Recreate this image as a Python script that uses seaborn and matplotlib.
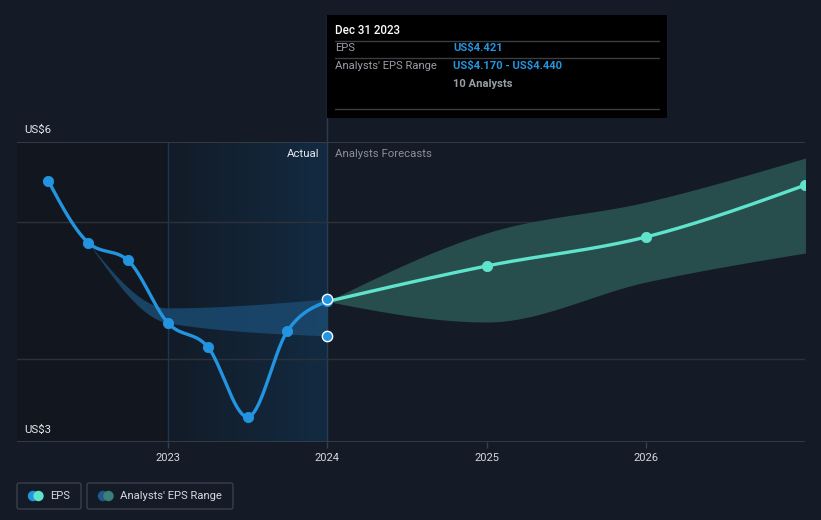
import numpy as np
import pandas as pd
import matplotlib
matplotlib.use("Agg")
import matplotlib.pyplot as plt
import seaborn as sns
from matplotlib.patches import FancyBboxPatch, Rectangle, Circle
from matplotlib.colors import LinearSegmentedColormap

# ---------------- data ----------------
eps_years = [2022.25, 2022.5, 2022.75, 2023.0, 2023.25, 2023.5, 2023.75, 2024.0]
eps_values = [5.30, 4.85, 4.72, 4.264, 4.089, 3.578, 4.206, 4.421]

past_range_years = [2022.5, 2023.0, 2024.0]
past_range_low = [4.85, 4.264, 4.170]
past_range_high = [4.85, 4.374, 4.440]

fc_years = [2024.0, 2025.0, 2026.0, 2027.0]
fc_values = [4.421, 4.68, 4.892, 5.271]
fc_low = [4.421, 4.271, 4.563, 4.775]
fc_high = [4.421, 4.921, 5.147, 5.468]

year_ticks = [2023, 2024, 2025, 2026]
year_labels = ["2023", "2024", "2025", "2026"]

# ---------------- style ----------------
BG = "#151b26"
BLUE = "#2394df"
TEAL = "#5fe3cc"
GRID = "#2c323d"
sns.set_theme(style="dark")
plt.rcParams["font.family"] = ["Roboto", "DejaVu Sans"]
plt.rcParams["text.parse_math"] = False


def monotone(x, y, n=60):
    """d3-style monotone-x cubic curve for display."""
    x = np.asarray(x, float)
    y = np.asarray(y, float)
    h = np.diff(x)
    s = np.diff(y) / h
    m = np.zeros(len(x))
    for k in range(1, len(x) - 1):
        p = (s[k - 1] * h[k] + s[k] * h[k - 1]) / (h[k - 1] + h[k])
        m[k] = (np.sign(s[k - 1]) + np.sign(s[k])) * min(abs(s[k - 1]), abs(s[k]), 0.5 * abs(p))
    if len(x) > 2:
        m[0] = (3 * s[0] - m[1]) / 2
        m[-1] = (3 * s[-1] - m[-2]) / 2
    else:
        m[:] = s[0]
    xs, ys = [], []
    for k in range(len(x) - 1):
        t = np.linspace(0, 1, n)
        h00 = 2 * t**3 - 3 * t**2 + 1
        h10 = t**3 - 2 * t**2 + t
        h01 = -2 * t**3 + 3 * t**2
        h11 = t**3 - t**2
        xs.append(x[k] + t * h[k])
        ys.append(h00 * y[k] + h10 * h[k] * m[k] + h01 * y[k + 1] + h11 * h[k] * m[k + 1])
    return np.concatenate(xs), np.concatenate(ys)


fig = plt.figure(figsize=(8.21, 5.20), dpi=100, facecolor=BG)
ax = fig.add_axes([17 / 821, 78 / 520, 788 / 821, 300 / 520])
ax.set_facecolor(BG)
ax.set_xlim(2022.053, 2026.997)
ax.set_ylim(3.395, 5.585)

# regions
ax.axvspan(2022.053, 2023.0, color="#12171f", zorder=0, lw=0)
grad = np.linspace(0, 1, 256).reshape(1, -1)
cm = LinearSegmentedColormap.from_list("g", ["#131b27", "#122b42"])
ax.imshow(grad, extent=[2023.0, 2024.0, 3.395, 5.585], aspect="auto", cmap=cm, zorder=0.5)
ax.axvline(2023.0, color="#1c3550", lw=1, zorder=1)
ax.axvline(2024.0, color="#2b3b4f", lw=1, zorder=1)

# grid
for v in [4.0, 5.0]:
    ax.axhline(v, color=GRID, lw=1, zorder=1)
ax.axhline(5.585, color="#3a404b", lw=1.2, zorder=1)
ax.axhline(3.395, color="#3a404b", lw=1.2, zorder=1)

# past analyst range band
px, pl = monotone(past_range_years, past_range_low)
_, ph = monotone(past_range_years, past_range_high)
ax.fill_between(px, pl, ph, color="#1b4a70", alpha=0.85, lw=0, zorder=2)

# forecast band
fx, fl = monotone(fc_years, fc_low)
_, fh = monotone(fc_years, fc_high)
ax.fill_between(fx, fl, fh, color="#2a5050", alpha=0.95, lw=0, zorder=2)

# EPS line
ex, ey = monotone(eps_years, eps_values)
sns.lineplot(x=ex, y=ey, ax=ax, color=BLUE, lw=2.4, sort=False, zorder=4)
sns.scatterplot(x=eps_years, y=eps_values, ax=ax, color=BLUE, s=55, edgecolor=BLUE, zorder=5)

# forecast line
cx, cy = monotone(fc_years, fc_values)
sns.lineplot(x=cx, y=cy, ax=ax, color=TEAL, lw=2.4, sort=False, zorder=4)
sns.scatterplot(x=fc_years[1:], y=fc_values[1:], ax=ax, color=TEAL, s=55, edgecolor=TEAL, zorder=5)

# range endpoints at Dec 31 2023
sns.scatterplot(x=[2024.0, 2024.0], y=[past_range_low[-1], past_range_high[-1]], ax=ax,
                color=BLUE, s=55, edgecolor="white", linewidth=1, zorder=6)

ax.set_xticks(year_ticks)
ax.set_xticklabels(year_labels)
ax.set_yticks([])
ax.tick_params(axis="x", colors="#3a404b", length=4, width=1, labelcolor="#d5d8dd",
               labelsize=8, pad=4, bottom=True)
for sp in ax.spines.values():
    sp.set_visible(False)
ax.grid(False)

# ---------------- overlay (pixel coordinates) ----------------
ov = fig.add_axes([0, 0, 1, 1], zorder=10)
ov.set_xlim(0, 821)
ov.set_ylim(520, 0)
ov.axis("off")
ov.patch.set_alpha(0)

ov.text(24, 130, "US$6", color="#e6e8eb", fontsize=8.2, va="center", ha="left")
ov.text(24, 430, "US$3", color="#e6e8eb", fontsize=8.2, va="center", ha="left")
ov.text(319, 154, "Actual", color="#e6e8eb", fontsize=8.2, va="center", ha="right")
ov.text(335, 154, "Analysts Forecasts", color="#8a8f98", fontsize=8.2, va="center", ha="left")

# tooltip
ov.plot([327, 327], [15, 142], color="#2b3b4f", lw=1)
ov.add_patch(Rectangle((327, 15), 340, 103, facecolor="#000000", edgecolor="none", zorder=3))
ov.text(335, 31, "Dec 31 2023", color="white", fontsize=8.3, va="center", ha="left",
        fontweight="medium", zorder=4)
for yy in [41, 58, 109]:
    ov.plot([335, 659], [yy, yy], color="#3a3d42", lw=1, zorder=4)
ov.text(335, 48, "EPS", color="#9a9ea5", fontsize=8.1, va="center", zorder=4)
ov.text(453, 48, "US$4.421", color=BLUE, fontsize=8.1, va="center", fontweight="bold", zorder=4)
ov.text(335, 66, "Analysts' EPS Range", color="#9a9ea5", fontsize=8.1, va="center", zorder=4)
ov.text(453, 66, "US$4.170 - US$4.440", color=BLUE, fontsize=8.1, va="center",
        fontweight="bold", zorder=4)
ov.text(453, 84, "10 Analysts", color="#9a9ea5", fontsize=8.1, va="center",
        fontweight="bold", zorder=4)

# legend
ov.add_patch(FancyBboxPatch((17, 483), 64, 26, boxstyle="round,pad=0,rounding_size=2",
                            facecolor="none", edgecolor="#3a404b", lw=1))
ov.add_patch(FancyBboxPatch((87, 483), 146, 26, boxstyle="round,pad=0,rounding_size=2",
                            facecolor="none", edgecolor="#3a404b", lw=1))
ov.add_patch(Circle((33, 496), 4.5, color=BLUE))
ov.add_patch(Circle((38.5, 496), 4.5, color=TEAL))
ov.text(50, 496, "EPS", color="#d5d8dd", fontsize=8.1, va="center")
ov.add_patch(Circle((103, 496), 4.5, color="#1f5a8a"))
ov.add_patch(Circle((108.5, 496), 4.5, color="#3c7f78"))
ov.text(120, 496, "Analysts' EPS Range", color="#d5d8dd", fontsize=8.1, va="center")

fig.savefig("out.png", dpi=100, facecolor=BG)
